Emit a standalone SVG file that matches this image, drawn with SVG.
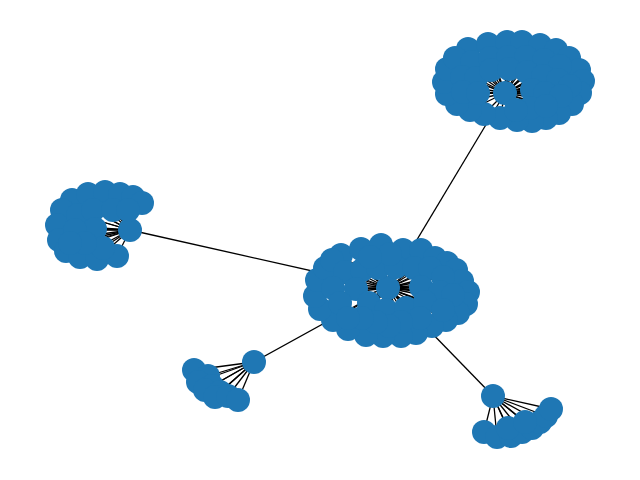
<svg xmlns="http://www.w3.org/2000/svg" width="640" height="480" viewBox="0 0 640 480">
<style>
line{stroke:#000;stroke-width:1.3}
circle{fill:#1f77b4}
</style>
<rect width="640" height="480" fill="#fff"/>
<g id="connectors">
<line x1="388" y1="288" x2="505" y2="93"/>
<line x1="388" y1="288" x2="130" y2="230"/>
<line x1="388" y1="288" x2="254" y2="362"/>
<line x1="388" y1="288" x2="493" y2="396"/>
<line x1="505" y1="93" x2="468" y2="49"/><line x1="505" y1="93" x2="488" y2="44"/><line x1="505" y1="93" x2="507" y2="42"/><line x1="505" y1="93" x2="522" y2="42"/><line x1="505" y1="93" x2="540" y2="45"/><line x1="505" y1="93" x2="556" y2="50"/><line x1="505" y1="93" x2="569" y2="58"/><line x1="505" y1="93" x2="579" y2="70"/><line x1="505" y1="93" x2="583" y2="81"/><line x1="505" y1="93" x2="580" y2="93"/><line x1="505" y1="93" x2="572" y2="104"/><line x1="505" y1="93" x2="559" y2="113"/><line x1="505" y1="93" x2="546" y2="118"/><line x1="505" y1="93" x2="532" y2="121"/><line x1="505" y1="93" x2="517" y2="120"/><line x1="505" y1="93" x2="500" y2="118"/><line x1="505" y1="93" x2="484" y2="114"/><line x1="505" y1="93" x2="470" y2="110"/><line x1="505" y1="93" x2="457" y2="104"/><line x1="505" y1="93" x2="447" y2="94"/><line x1="505" y1="93" x2="444" y2="82"/><line x1="505" y1="93" x2="447" y2="69"/><line x1="505" y1="93" x2="455" y2="58"/><line x1="505" y1="93" x2="472" y2="62"/><line x1="505" y1="93" x2="490" y2="58"/><line x1="505" y1="93" x2="508" y2="57"/><line x1="505" y1="93" x2="526" y2="57"/><line x1="505" y1="93" x2="544" y2="60"/><line x1="505" y1="93" x2="560" y2="66"/><line x1="505" y1="93" x2="462" y2="77"/><line x1="505" y1="93" x2="476" y2="78"/><line x1="505" y1="93" x2="491" y2="70"/><line x1="505" y1="93" x2="510" y2="68"/><line x1="505" y1="93" x2="527" y2="72"/><line x1="505" y1="93" x2="543" y2="76"/><line x1="505" y1="93" x2="558" y2="80"/><line x1="505" y1="93" x2="570" y2="86"/><line x1="505" y1="93" x2="463" y2="92"/><line x1="505" y1="93" x2="478" y2="93"/><line x1="505" y1="93" x2="532" y2="90"/><line x1="505" y1="93" x2="545" y2="93"/><line x1="505" y1="93" x2="561" y2="96"/><line x1="505" y1="93" x2="530" y2="108"/><line x1="505" y1="93" x2="546" y2="106"/><line x1="505" y1="93" x2="516" y2="110"/>
<line x1="388" y1="288" x2="341" y2="255"/><line x1="388" y1="288" x2="361" y2="249"/><line x1="388" y1="288" x2="381" y2="245"/><line x1="388" y1="288" x2="403" y2="250"/><line x1="388" y1="288" x2="421" y2="250"/><line x1="388" y1="288" x2="435" y2="258"/><line x1="388" y1="288" x2="447" y2="263"/><line x1="388" y1="288" x2="456" y2="270"/><line x1="388" y1="288" x2="462" y2="281"/><line x1="388" y1="288" x2="468" y2="292"/><line x1="388" y1="288" x2="466" y2="304"/><line x1="388" y1="288" x2="458" y2="313"/><line x1="388" y1="288" x2="446" y2="320"/><line x1="388" y1="288" x2="432" y2="326"/><line x1="388" y1="288" x2="416" y2="333"/><line x1="388" y1="288" x2="401" y2="336"/><line x1="388" y1="288" x2="383" y2="336"/><line x1="388" y1="288" x2="366" y2="335"/><line x1="388" y1="288" x2="348" y2="329"/><line x1="388" y1="288" x2="333" y2="320"/><line x1="388" y1="288" x2="320" y2="309"/><line x1="388" y1="288" x2="315" y2="296"/><line x1="388" y1="288" x2="317" y2="280"/><line x1="388" y1="288" x2="325" y2="268"/><line x1="388" y1="288" x2="332" y2="260"/><line x1="388" y1="288" x2="345" y2="272"/><line x1="388" y1="288" x2="362" y2="270"/><line x1="388" y1="288" x2="378" y2="268"/><line x1="388" y1="288" x2="396" y2="267"/><line x1="388" y1="288" x2="414" y2="268"/><line x1="388" y1="288" x2="430" y2="268"/><line x1="388" y1="288" x2="443" y2="277"/><line x1="388" y1="288" x2="390" y2="254"/><line x1="388" y1="288" x2="370" y2="257"/><line x1="388" y1="288" x2="333" y2="288"/><line x1="388" y1="288" x2="356" y2="289"/><line x1="388" y1="288" x2="340" y2="303"/><line x1="388" y1="288" x2="369" y2="303"/><line x1="388" y1="288" x2="386" y2="310"/><line x1="388" y1="288" x2="406" y2="308"/><line x1="388" y1="288" x2="421" y2="287"/><line x1="388" y1="288" x2="440" y2="292"/><line x1="388" y1="288" x2="453" y2="295"/><line x1="388" y1="288" x2="425" y2="302"/><line x1="388" y1="288" x2="443" y2="310"/><line x1="388" y1="288" x2="420" y2="318"/><line x1="388" y1="288" x2="401" y2="322"/><line x1="388" y1="288" x2="389" y2="326"/><line x1="388" y1="288" x2="376" y2="322"/><line x1="388" y1="288" x2="362" y2="318"/><line x1="388" y1="288" x2="348" y2="318"/>
<line x1="130" y1="230" x2="72" y2="200"/><line x1="130" y1="230" x2="88" y2="194"/><line x1="130" y1="230" x2="105" y2="192"/><line x1="130" y1="230" x2="120" y2="194"/><line x1="130" y1="230" x2="133" y2="197"/><line x1="130" y1="230" x2="142" y2="203"/><line x1="130" y1="230" x2="62" y2="210"/><line x1="130" y1="230" x2="57" y2="225"/><line x1="130" y1="230" x2="59" y2="240"/><line x1="130" y1="230" x2="66" y2="251"/><line x1="130" y1="230" x2="80" y2="257"/><line x1="130" y1="230" x2="97" y2="259"/><line x1="130" y1="230" x2="117" y2="256"/><line x1="130" y1="230" x2="78" y2="215"/><line x1="130" y1="230" x2="93" y2="210"/><line x1="130" y1="230" x2="113" y2="210"/><line x1="130" y1="230" x2="128" y2="210"/><line x1="130" y1="230" x2="95" y2="229"/><line x1="130" y1="230" x2="75" y2="230"/><line x1="130" y1="230" x2="103" y2="248"/><line x1="130" y1="230" x2="85" y2="243"/><line x1="130" y1="230" x2="70" y2="243"/>
<line x1="254" y1="362" x2="194" y2="370"/><line x1="254" y1="362" x2="208" y2="376"/><line x1="254" y1="362" x2="198" y2="382"/><line x1="254" y1="362" x2="212" y2="386"/><line x1="254" y1="362" x2="205" y2="390"/><line x1="254" y1="362" x2="220" y2="392"/><line x1="254" y1="362" x2="215" y2="397"/><line x1="254" y1="362" x2="228" y2="396"/><line x1="254" y1="362" x2="238" y2="400"/>
<line x1="493" y1="396" x2="484" y2="432"/><line x1="493" y1="396" x2="497" y2="437"/><line x1="493" y1="396" x2="511" y2="436"/><line x1="493" y1="396" x2="522" y2="432"/><line x1="493" y1="396" x2="532" y2="428"/><line x1="493" y1="396" x2="540" y2="422"/><line x1="493" y1="396" x2="546" y2="416"/><line x1="493" y1="396" x2="551" y2="409"/><line x1="493" y1="396" x2="508" y2="428"/><line x1="493" y1="396" x2="525" y2="422"/>
</g>
<g id="nodes">
<g id="hub-tr"><circle cx="505" cy="93" r="12"/></g>
<g id="hub-c"><circle cx="388" cy="288" r="12"/></g>
<g id="hub-l"><circle cx="130" cy="230" r="12"/></g>
<g id="hub-s1"><circle cx="254" cy="362" r="12"/></g>
<g id="hub-s2"><circle cx="493" cy="396" r="12"/></g>
<g id="tr1"><circle cx="468" cy="49" r="12"/></g><g id="tr2"><circle cx="488" cy="44" r="12"/></g><g id="tr3"><circle cx="507" cy="42" r="12"/></g><g id="tr4"><circle cx="522" cy="42" r="12"/></g><g id="tr5"><circle cx="540" cy="45" r="12"/></g><g id="tr6"><circle cx="556" cy="50" r="12"/></g><g id="tr7"><circle cx="569" cy="58" r="12"/></g><g id="tr8"><circle cx="579" cy="70" r="12"/></g><g id="tr9"><circle cx="583" cy="81" r="12"/></g><g id="tr10"><circle cx="580" cy="93" r="12"/></g><g id="tr11"><circle cx="572" cy="104" r="12"/></g><g id="tr12"><circle cx="559" cy="113" r="12"/></g><g id="tr13"><circle cx="546" cy="118" r="12"/></g><g id="tr14"><circle cx="532" cy="121" r="12"/></g><g id="tr15"><circle cx="517" cy="120" r="12"/></g><g id="tr16"><circle cx="500" cy="118" r="12"/></g><g id="tr17"><circle cx="484" cy="114" r="12"/></g><g id="tr18"><circle cx="470" cy="110" r="12"/></g><g id="tr19"><circle cx="457" cy="104" r="12"/></g><g id="tr20"><circle cx="447" cy="94" r="12"/></g><g id="tr21"><circle cx="444" cy="82" r="12"/></g><g id="tr22"><circle cx="447" cy="69" r="12"/></g><g id="tr23"><circle cx="455" cy="58" r="12"/></g><g id="tr24"><circle cx="472" cy="62" r="12"/></g><g id="tr25"><circle cx="490" cy="58" r="12"/></g><g id="tr26"><circle cx="508" cy="57" r="12"/></g><g id="tr27"><circle cx="526" cy="57" r="12"/></g><g id="tr28"><circle cx="544" cy="60" r="12"/></g><g id="tr29"><circle cx="560" cy="66" r="12"/></g><g id="tr30"><circle cx="462" cy="77" r="12"/></g><g id="tr31"><circle cx="476" cy="78" r="12"/></g><g id="tr32"><circle cx="491" cy="70" r="12"/></g><g id="tr33"><circle cx="509" cy="69" r="12"/></g><g id="tr34"><circle cx="527" cy="72" r="12"/></g><g id="tr35"><circle cx="543" cy="76" r="12"/></g><g id="tr36"><circle cx="558" cy="80" r="12"/></g><g id="tr37"><circle cx="570" cy="86" r="12"/></g><g id="tr38"><circle cx="463" cy="92" r="12"/></g><g id="tr39"><circle cx="478" cy="93" r="12"/></g><g id="tr40"><circle cx="532" cy="90" r="12"/></g><g id="tr41"><circle cx="545" cy="93" r="12"/></g><g id="tr42"><circle cx="561" cy="96" r="12"/></g><g id="tr43"><circle cx="530" cy="108" r="12"/></g><g id="tr44"><circle cx="546" cy="106" r="12"/></g><g id="tr45"><circle cx="516" cy="110" r="12"/></g>
<g id="c1"><circle cx="341" cy="255" r="12"/></g><g id="c2"><circle cx="361" cy="249" r="12"/></g><g id="c3"><circle cx="381" cy="245" r="12"/></g><g id="c4"><circle cx="403" cy="250" r="12"/></g><g id="c5"><circle cx="421" cy="250" r="12"/></g><g id="c6"><circle cx="435" cy="258" r="12"/></g><g id="c7"><circle cx="447" cy="263" r="12"/></g><g id="c8"><circle cx="456" cy="270" r="12"/></g><g id="c9"><circle cx="462" cy="281" r="12"/></g><g id="c10"><circle cx="468" cy="292" r="12"/></g><g id="c11"><circle cx="466" cy="304" r="12"/></g><g id="c12"><circle cx="458" cy="313" r="12"/></g><g id="c13"><circle cx="446" cy="320" r="12"/></g><g id="c14"><circle cx="432" cy="326" r="12"/></g><g id="c15"><circle cx="416" cy="333" r="12"/></g><g id="c16"><circle cx="401" cy="336" r="12"/></g><g id="c17"><circle cx="383" cy="336" r="12"/></g><g id="c18"><circle cx="366" cy="335" r="12"/></g><g id="c19"><circle cx="348" cy="329" r="12"/></g><g id="c20"><circle cx="333" cy="320" r="12"/></g><g id="c21"><circle cx="320" cy="309" r="12"/></g><g id="c22"><circle cx="315" cy="296" r="12"/></g><g id="c23"><circle cx="317" cy="280" r="12"/></g><g id="c24"><circle cx="325" cy="268" r="12"/></g><g id="c25"><circle cx="332" cy="260" r="12"/></g><g id="c26"><circle cx="345" cy="272" r="12"/></g><g id="c27"><circle cx="362" cy="270" r="12"/></g><g id="c28"><circle cx="378" cy="268" r="12"/></g><g id="c29"><circle cx="396" cy="267" r="12"/></g><g id="c30"><circle cx="414" cy="268" r="12"/></g><g id="c31"><circle cx="430" cy="268" r="12"/></g><g id="c32"><circle cx="443" cy="277" r="12"/></g><g id="c33"><circle cx="390" cy="254" r="12"/></g><g id="c34"><circle cx="370" cy="257" r="12"/></g><g id="c35"><circle cx="333" cy="288" r="12"/></g><g id="c36"><circle cx="356" cy="289" r="12"/></g><g id="c37"><circle cx="340" cy="303" r="12"/></g><g id="c38"><circle cx="369" cy="303" r="12"/></g><g id="c39"><circle cx="386" cy="310" r="12"/></g><g id="c40"><circle cx="406" cy="308" r="12"/></g><g id="c41"><circle cx="421" cy="287" r="12"/></g><g id="c42"><circle cx="440" cy="292" r="12"/></g><g id="c43"><circle cx="453" cy="295" r="12"/></g><g id="c44"><circle cx="425" cy="302" r="12"/></g><g id="c45"><circle cx="443" cy="310" r="12"/></g><g id="c46"><circle cx="420" cy="318" r="12"/></g><g id="c47"><circle cx="401" cy="322" r="12"/></g><g id="c48"><circle cx="389" cy="326" r="12"/></g><g id="c49"><circle cx="376" cy="322" r="12"/></g><g id="c50"><circle cx="362" cy="318" r="12"/></g><g id="c51"><circle cx="348" cy="318" r="12"/></g>
<g id="l1"><circle cx="72" cy="200" r="12"/></g><g id="l2"><circle cx="88" cy="194" r="12"/></g><g id="l3"><circle cx="105" cy="192" r="12"/></g><g id="l4"><circle cx="120" cy="194" r="12"/></g><g id="l5"><circle cx="133" cy="197" r="12"/></g><g id="l6"><circle cx="142" cy="203" r="12"/></g><g id="l7"><circle cx="62" cy="210" r="12"/></g><g id="l8"><circle cx="57" cy="225" r="12"/></g><g id="l9"><circle cx="59" cy="240" r="12"/></g><g id="l10"><circle cx="66" cy="251" r="12"/></g><g id="l11"><circle cx="80" cy="257" r="12"/></g><g id="l12"><circle cx="97" cy="259" r="12"/></g><g id="l13"><circle cx="117" cy="256" r="12"/></g><g id="l14"><circle cx="78" cy="215" r="12"/></g><g id="l15"><circle cx="93" cy="210" r="12"/></g><g id="l16"><circle cx="113" cy="210" r="12"/></g><g id="l17"><circle cx="128" cy="210" r="12"/></g><g id="l18"><circle cx="95" cy="229" r="12"/></g><g id="l19"><circle cx="75" cy="230" r="12"/></g><g id="l20"><circle cx="103" cy="248" r="12"/></g><g id="l21"><circle cx="85" cy="243" r="12"/></g><g id="l22"><circle cx="70" cy="243" r="12"/></g>
<g id="s1a"><circle cx="194" cy="370" r="12"/></g><g id="s1b"><circle cx="208" cy="376" r="12"/></g><g id="s1c"><circle cx="198" cy="382" r="12"/></g><g id="s1d"><circle cx="212" cy="386" r="12"/></g><g id="s1e"><circle cx="205" cy="390" r="12"/></g><g id="s1f"><circle cx="220" cy="392" r="12"/></g><g id="s1g"><circle cx="215" cy="397" r="12"/></g><g id="s1h"><circle cx="228" cy="396" r="12"/></g><g id="s1i"><circle cx="238" cy="400" r="12"/></g>
<g id="s2a"><circle cx="484" cy="432" r="12"/></g><g id="s2b"><circle cx="497" cy="437" r="12"/></g><g id="s2c"><circle cx="511" cy="436" r="12"/></g><g id="s2d"><circle cx="522" cy="432" r="12"/></g><g id="s2e"><circle cx="532" cy="428" r="12"/></g><g id="s2f"><circle cx="540" cy="422" r="12"/></g><g id="s2g"><circle cx="546" cy="416" r="12"/></g><g id="s2h"><circle cx="551" cy="409" r="12"/></g><g id="s2i"><circle cx="508" cy="428" r="12"/></g><g id="s2j"><circle cx="525" cy="422" r="12"/></g>
</g>
</svg>
